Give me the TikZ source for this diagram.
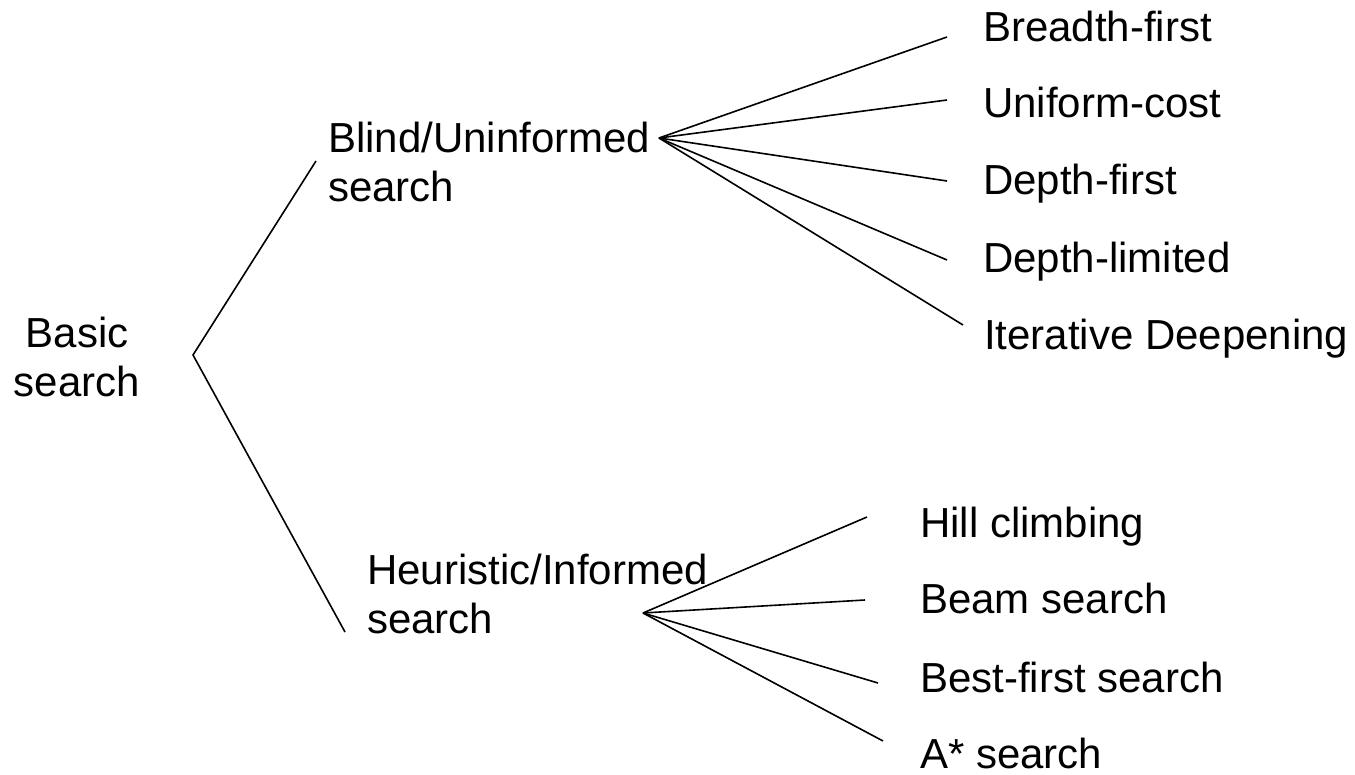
\documentclass[tikz,border=0pt]{standalone}
\usepackage{fontspec}
\setmainfont{Liberation Sans}
\begin{document}
\begin{tikzpicture}[x=1pt,y=-1pt,
  lbl/.style={inner sep=0pt,anchor=base west,font=\fontsize{42}{49}\selectfont},
  branch/.style={line width=1.6pt,black}]
\useasboundingbox (0,0) rectangle (1355,775);

% labels (two-line labels are placed by the baseline of their last line)
\node[lbl,anchor=base,align=center] (root) at (77,397) {Basic\\search};
\node[lbl,align=left] (blind) at (328,202) {Blind/Uninformed\\search};
\node[lbl,align=left] (heur) at (367,633) {Heuristic/Informed\\search};

\node[lbl] (bf)  at (983,42)  {Breadth-first};
\node[lbl] (uc)  at (983,118) {Uniform-cost};
\node[lbl] (df)  at (983,195) {Depth-first};
\node[lbl] (dl)  at (983,273) {Depth-limited};
\node[lbl] (id)  at (984,350) {Iterative Deepening};

\node[lbl] (hc)  at (920,537) {Hill climbing};
\node[lbl] (bs)  at (920,613) {Beam search};
\node[lbl] (bfs) at (920,692) {Best-first search};
\node[lbl] (as)  at (920,768) {A* search};

% branch points
\coordinate (rootfork) at (193,355);
\coordinate (blindin)  at (316,161);
\coordinate (heurin)   at (345,632);
\coordinate (blindfork) at (659,138);
\coordinate (heurfork)  at (643,613);

\coordinate (bfin)  at (947,37);
\coordinate (ucin)  at (947,100);
\coordinate (dfin)  at (947,181);
\coordinate (dlin)  at (947,260);
\coordinate (idin)  at (963,325);

\coordinate (hcin)  at (867,517);
\coordinate (bsin)  at (865,600);
\coordinate (bfsin) at (878,683);
\coordinate (asin)  at (883,741);

% connectors
\draw[branch] (blindin) -- (rootfork) -- (heurin);
\foreach \t in {bfin,ucin,dfin,dlin,idin}
  \draw[branch] (blindfork) -- (\t);
\foreach \t in {hcin,bsin,bfsin,asin}
  \draw[branch] (heurfork) -- (\t);
\end{tikzpicture}
\end{document}
